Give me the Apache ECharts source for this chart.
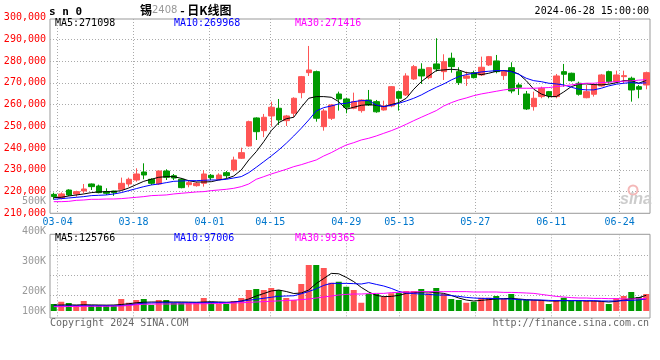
<!DOCTYPE html>
<html><head><meta charset="utf-8">
<script src="https://cdn.jsdelivr.net/npm/echarts/dist/echarts.min.js"></script>
<style>html,body{margin:0;padding:0;background:#fff}#c{width:660px;height:360px}</style>
</head><body><div id="c"></div>
<script>
// ---- data ----
const dates = ['03-01','03-04','03-05','03-06','03-07','03-08','03-11','03-12','03-13','03-14','03-15','03-18','03-19','03-20','03-21','03-22','03-25','03-26','03-27','03-28','03-29',
'04-01','04-02','04-03','04-08','04-09','04-10','04-11','04-12','04-15','04-16','04-17','04-18','04-19','04-22','04-23','04-24','04-25','04-26','04-29','04-30',
'05-06','05-07','05-08','05-09','05-10','05-13','05-14','05-15','05-16','05-17','05-20','05-21','05-22','05-23','05-24','05-27','05-28','05-29','05-30','05-31',
'06-03','06-04','06-05','06-06','06-07','06-11','06-12','06-13','06-14','06-17','06-18','06-19','06-20','06-21','06-24','06-25','06-26','06-27','06-28'];
const tickDates = ['03-04','03-18','04-01','04-15','04-29','05-13','05-27','06-11','06-24'];
const opens = [218700,216900,220700,218870,220250,223470,222550,219950,220250,221040,
223470,225300,228990,225630,223470,229450,227290,225630,223160,222700,
223790,227470,225630,228670,229910,235290,240950,253820,247980,254740,
258280,252580,255980,265460,274650,275110,249820,253680,264850,262550,
258280,257200,262090,261320,257500,259340,265920,264390,271750,276210,
272350,278650,275110,281270,275110,272070,274650,273590,278190,280040,
273300,276950,268980,264850,259030,263640,265920,263640,275110,274370,
269770,263130,264710,268530,275110,270510,272810,272070,268210,268990];
const closes = [217700,218900,218400,219950,221170,222250,219500,219200,219500,223790,
225630,228070,227610,223790,229450,226550,226230,221790,224080,223790,
228070,226370,227610,227290,234510,237870,252120,247520,254140,258740,
252900,254740,262870,272810,275880,253680,257040,259800,262550,258740,
261320,262090,259800,256660,259340,268210,262870,273130,277410,273130,
276950,276330,279710,277410,270050,273130,272350,277130,282010,275110,
275110,266230,267920,257960,262870,267480,264120,273130,273910,270970,
264710,265920,268980,273590,270510,273590,273280,266690,267010,274650];
const lows = [216300,216400,217900,217650,219200,220710,219200,218430,218000,220720,
222250,224530,225630,223020,223010,225300,225300,221490,221950,222250,
222250,225310,225310,226090,229150,234980,240640,243700,245000,249820,
250600,250130,254280,262870,273130,252120,247980,252900,257200,255980,
257810,256280,259340,256200,257200,258740,257200,263950,271290,269450,
271600,275110,271290,274650,268990,268530,272000,273130,277720,274350,
271290,265170,264390,257500,257200,262870,262870,262870,268220,270510,
264100,262870,263640,268220,269780,269780,269780,261320,262870,267010];
const highs = [219500,219600,221040,220400,223470,223700,223170,221500,220400,226400,
226400,230690,232980,226090,229600,230230,228060,226240,224990,224530,
229910,228060,228390,229450,236030,240160,252580,254100,255670,261320,
262550,255200,263330,273130,286920,275580,257960,260260,265920,263010,
265460,262400,266690,262100,261780,268520,266380,274370,278190,278970,
277100,290470,283100,283840,277130,275110,275570,282010,282320,282780,
275880,279430,270050,266230,265920,268220,266230,274050,278650,274650,
270510,268980,269780,274050,275570,275570,275570,272810,268980,275110];
const ma5 = [217190,217350,217960,218420,218890,219500,219810,219960,219960,220420,
221640,223170,224700,225630,226550,226850,226850,226080,224980,224390,
224390,224530,225310,225920,227150,229910,234500,238330,242930,247980,
251660,253470,254140,258740,262880,263640,263640,263330,261320,257820,
258740,259650,259960,259650,259030,259960,260880,262870,267030,270510,
273130,275600,275900,276210,275900,274650,274370,273740,274370,275290,
275600,275290,274050,270970,267030,264850,263640,263640,265780,268220,
269330,269480,269170,269020,269330,270050,270970,270970,269780,271098];
const ma10 = [216430,216740,217040,217350,217660,218120,218270,218430,218890,219500,
220420,221340,222250,223020,223480,224090,224700,224860,225010,225010,
225170,225320,225320,225630,226240,226860,228670,231150,233730,236340,
239100,242190,245540,249080,252900,257040,258570,259340,260260,260570,
261320,261790,261790,259800,259030,259650,260570,261640,262870,264390,
266230,267920,269450,271290,272830,273740,274370,274990,275290,275600,
275600,275110,273910,272070,270970,270510,269780,269470,269010,267950,
267030,266730,266730,267480,268560,269320,269780,270080,269780,269968];
const ma30 = [215350,215350,215500,215960,216120,216430,216430,216580,216580,216740,
217040,217350,217660,218120,218270,218430,218890,219200,219500,219810,
219960,220420,220720,221030,221490,222250,223480,225630,226840,228070,
229140,230220,231440,232350,233450,234520,236350,237880,239720,241400,
242460,243700,244490,245540,246770,247980,249360,250920,252580,254140,
255660,257200,259340,260850,262090,263010,264080,264860,265470,266090,
266700,267160,267480,267480,267480,267630,267790,268250,268560,269020,
269480,269790,269790,270100,270250,270560,270710,270870,271200,271416];
const volumes = [56000,74000,64000,48000,80000,48000,48000,48000,48000,96000,
66000,88000,96000,48000,88000,88000,66000,66000,66000,66000,
104000,74000,56000,56000,80000,104000,168000,176000,168000,184000,
168000,104000,88000,216000,368000,368000,344000,226000,234000,194000,
168000,66000,136000,136000,114000,142000,146000,160000,160000,176000,
142000,184000,136000,96000,88000,66000,74000,106000,106000,120000,
96000,136000,96000,88000,88000,88000,56000,88000,106000,80000,
80000,80000,80000,80000,56000,102000,120000,152000,112000,136000];
const vma5 = [47000,48000,49000,48000,50000,49000,48000,47000,48000,52000,
58000,66000,70000,72000,72000,73000,72000,72000,71000,70000,
72000,74000,72000,70000,72000,80000,96000,120000,140000,160000,
168000,156000,140000,144000,168000,220000,260000,301000,298000,269000,
235000,189000,152000,125000,115000,117000,125000,141000,147000,152000,
152000,147000,141000,125000,104000,88000,80000,85000,91000,96000,
99000,101000,96000,91000,88000,85000,80000,80000,83000,83000,
83000,80000,80000,77000,72000,77000,88000,99000,107000,125766];
const vma10 = [40000,40000,41000,41000,42000,42000,42000,42000,42000,44000,
48000,56000,62000,64000,66000,66000,66000,66000,66000,66000,
66000,67000,67000,67000,70000,78000,86000,94000,102000,110000,
118000,120000,122000,138000,156000,178000,205000,221000,221000,221000,
219000,216000,227000,213000,200000,181000,157000,144000,139000,136000,
133000,128000,128000,123000,117000,109000,104000,101000,101000,99000,
96000,96000,91000,88000,88000,88000,85000,83000,83000,83000,
83000,83000,83000,80000,80000,80000,83000,85000,88000,97006];
const vma30 = [35000,35000,36000,36000,37000,38000,38000,38000,39000,40000,
44000,50000,54000,55000,56000,56000,56000,57000,57000,58000,
58000,59000,60000,62000,64000,66000,69000,72000,75000,78000,
81000,84000,87000,91000,96000,104000,112000,120000,128000,133000,
136000,136000,139000,141000,141000,147000,149000,152000,152000,155000,
155000,155000,155000,155000,155000,155000,152000,152000,152000,152000,
149000,149000,147000,144000,141000,133000,125000,117000,112000,107000,
104000,104000,101000,101000,99000,99000,96000,96000,98000,99365];
const priceMin = 210000, priceMax = 300000, priceStep = 10000;
const volTickLabels = ['100K','','200K','','','300K','','','400K','','','500K'];

// ---- chart ----
const chart = echarts.init(document.getElementById('c'), null, {renderer:'canvas', width:660, height:360});
const mono = '"DejaVu Sans Mono", monospace';
const up = '#ff5555', down = '#009900';
const dot = {color:'#aaaaaa', type:[1,2], width:1};
const tickIdx = tickDates.map(d => dates.indexOf(d));
const isTick = i => tickIdx.indexOf(i) >= 0;
const candles = dates.map((d, i) => [opens[i], closes[i], lows[i], highs[i]]);
const last = a => a[a.length - 1];
const line = (data, color, xi, yi) => ({type:'line', data, xAxisIndex:xi, yAxisIndex:yi, symbol:'none', silent:true, z:3,
  lineStyle:{color, width:1}});

chart.setOption({
  animation:false,
  backgroundColor:'#ffffff',
  grid:[
    {left:50, right:10, top:17.5, bottom:146.7, show:false},
    {left:50, right:10, top:19, bottom:146.7, show:true, borderColor:'#999999', borderWidth:1, backgroundColor:'transparent'},
    {left:50, right:10, top:234.3, bottom:42, show:true, borderColor:'#999999', borderWidth:1, backgroundColor:'transparent'},
    {left:50, right:10, top:235.7, bottom:44.3, show:false},
    {left:50, right:10, top:201, bottom:49, show:false}
  ],
  xAxis:[
    {gridIndex:0, type:'category', data:dates, boundaryGap:true, show:false},
    {gridIndex:1, type:'category', data:dates, boundaryGap:false, axisLine:{show:false}, axisTick:{show:false},
      axisLabel:{interval:(i)=>isTick(i), color:'#0077cc', fontFamily:mono, fontSize:10, margin:4},
      splitLine:{show:true, interval:(i)=>isTick(i), lineStyle:dot}},
    {gridIndex:2, type:'category', data:dates, boundaryGap:true, show:false},
    {gridIndex:2, type:'category', data:dates, boundaryGap:false, axisLine:{show:false}, axisTick:{show:false},
      axisLabel:{show:false}, splitLine:{show:true, interval:(i)=>isTick(i), lineStyle:dot}},
    {gridIndex:3, type:'category', data:dates, show:false},
    {gridIndex:4, type:'category', data:dates, show:false}
  ],
  yAxis:[
    {gridIndex:0, type:'value', min:priceMin, max:priceMax, interval:priceStep, axisLine:{show:false}, axisTick:{show:false},
      axisLabel:{color:'#ff0000', fontFamily:mono, fontSize:10, margin:4, padding:[0,0,3,0]},
      splitLine:{show:true, showMinLine:false, showMaxLine:false, lineStyle:dot}},
    {gridIndex:1, type:'value', show:false},
    {gridIndex:2, type:'value', min:-56000, max:613600, show:false},
    {gridIndex:3, type:'value', min:0, max:4, interval:1, axisLine:{show:false}, axisTick:{show:false}, axisLabel:{show:false},
      splitLine:{show:true, showMinLine:false, showMaxLine:false, lineStyle:dot}},
    {gridIndex:4, type:'category', data:volTickLabels, boundaryGap:false, axisLine:{show:false}, axisTick:{show:false},
      axisLabel:{interval:0, color:'#999999', fontFamily:mono, fontSize:10, margin:4}, splitLine:{show:false}}
  ],
  series:[
    {type:'candlestick', xAxisIndex:0, yAxisIndex:0, data:candles, barWidth:6, silent:true,
      itemStyle:{color:up, color0:down, borderColor:up, borderColor0:down, borderWidth:1}},
    line(ma5, '#000000', 0, 0), line(ma10, '#0000ff', 0, 0), line(ma30, '#ff00ff', 0, 0),
    {type:'bar', xAxisIndex:2, yAxisIndex:2, barWidth:6, silent:true,
      data: volumes.map((v, i) => ({value:v, itemStyle:{color: closes[i] >= opens[i] ? up : down}}))},
    line(vma5, '#000000', 2, 2), line(vma10, '#0000ff', 2, 2), line(vma30, '#ff00ff', 2, 2)
  ],
  graphic:[
    {type:'text', z:10, style:{x:49, y:12, text:'s n 0', font:'bold 11px ' + mono, fill:'#000', verticalAlign:'middle'}},
    {type:'text', z:10, style:{x:140, y:10.5, verticalAlign:'middle', text:'{a|锡}{b|2408}{a| - 日K线图}',
      rich:{a:{font:'bold 12px "Noto Sans CJK SC"', fill:'#000'}, b:{font:'10px "DejaVu Sans"', fill:'#999'}}}},
    {type:'text', z:10, style:{x:649, y:11.5, text:'2024-06-28 15:00:00', font:'10px ' + mono, fill:'#000', align:'right', verticalAlign:'middle'}},
    {type:'text', z:10, style:{x:55, y:23.5, text:'MA5:' + last(ma5), font:'10px ' + mono, fill:'#000', verticalAlign:'middle'}},
    {type:'text', z:10, style:{x:174, y:23.5, text:'MA10:' + last(ma10), font:'10px ' + mono, fill:'#0000ff', verticalAlign:'middle'}},
    {type:'text', z:10, style:{x:295, y:23.5, text:'MA30:' + last(ma30), font:'10px ' + mono, fill:'#ff00ff', verticalAlign:'middle'}},
    {type:'text', z:10, style:{x:55, y:238.5, text:'MA5:' + last(vma5), font:'10px ' + mono, fill:'#000', verticalAlign:'middle'}},
    {type:'text', z:10, style:{x:174, y:238.5, text:'MA10:' + last(vma10), font:'10px ' + mono, fill:'#0000ff', verticalAlign:'middle'}},
    {type:'text', z:10, style:{x:295, y:238.5, text:'MA30:' + last(vma30), font:'10px ' + mono, fill:'#ff00ff', verticalAlign:'middle'}},
    {type:'text', z:10, style:{x:50, y:323.5, text:'Copyright 2024 SINA.COM', font:'10px ' + mono, fill:'#666666', verticalAlign:'middle'}},
    {type:'text', z:10, style:{x:649, y:323.5, text:'http://finance.sina.com.cn', font:'10px ' + mono, fill:'#666666', align:'right', verticalAlign:'middle'}},
    {type:'circle', z:1, shape:{cx:633, cy:190, r:4.5}, style:{fill:'none', stroke:'#f4b8b8', lineWidth:2}},
    {type:'text', z:1, style:{x:620, y:200, text:'sina', font:'italic bold 16px "Liberation Sans"', fill:'#cccccc', verticalAlign:'middle'}}
  ]
});
</script></body></html>
